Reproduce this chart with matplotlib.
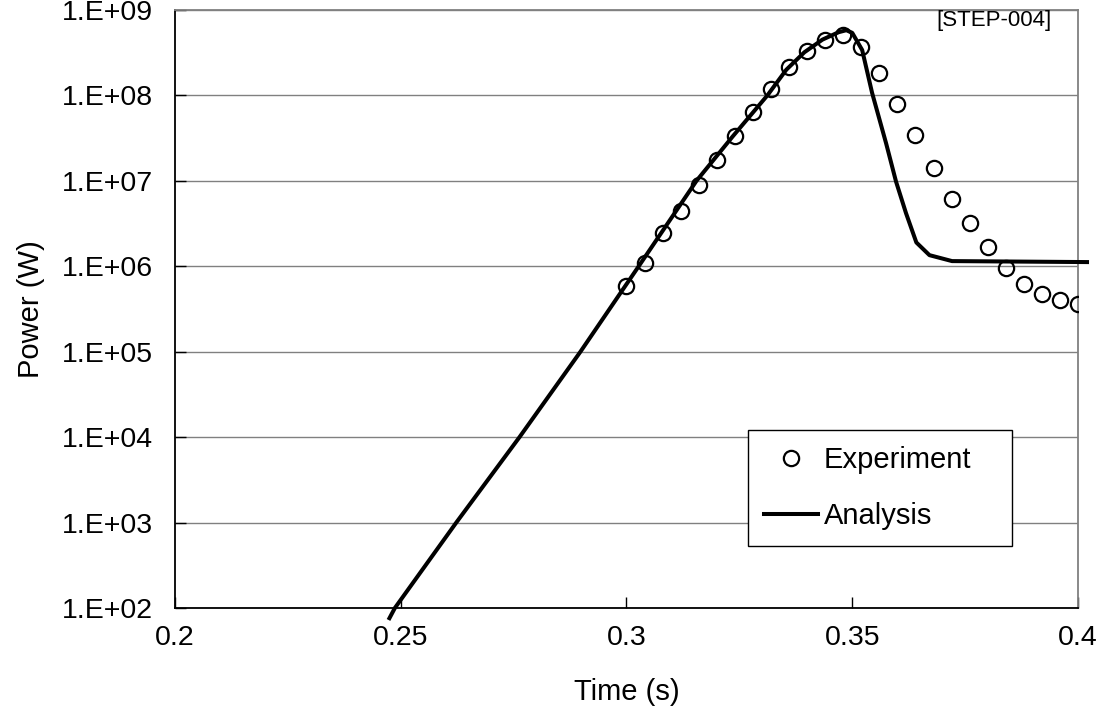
import matplotlib
matplotlib.use("Agg")
import matplotlib.pyplot as plt
import numpy as np
from matplotlib.ticker import FixedLocator, FixedFormatter, NullLocator

plt.rcParams['font.family'] = ['Liberation Sans', 'DejaVu Sans']

# ---- data ----
exp_t = [0.300, 0.304, 0.308, 0.312, 0.316, 0.320, 0.324, 0.328, 0.332, 0.336,
         0.340, 0.344, 0.348, 0.352, 0.356, 0.360, 0.364, 0.368, 0.372, 0.376,
         0.380, 0.384, 0.388, 0.392, 0.396, 0.400]
exp_p = [5.9e5, 1.1e6, 2.45e6, 4.4e6, 8.9e6, 1.75e7, 3.35e7, 6.4e7, 1.19e8, 2.15e8,
         3.3e8, 4.5e8, 5.1e8, 3.7e8, 1.83e8, 7.9e7, 3.4e7, 1.41e7, 6.1e6, 3.2e6,
         1.68e6, 9.5e5, 6.2e5, 4.7e5, 4.0e5, 3.6e5]

ana_t = [0.2475, 0.2487, 0.2623, 0.2763, 0.2898, 0.3027, 0.3155, 0.3235, 0.3312,
         0.3354, 0.3394, 0.3434, 0.3470, 0.3487, 0.3500, 0.3522, 0.3544, 0.3575,
         0.3597, 0.3619, 0.3642, 0.3671, 0.3721, 0.4020]
ana_p = [7.6e1, 1e2, 1e3, 1e4, 1e5, 1e6, 1e7, 3.3e7, 1e8,
         2.0e8, 3.2e8, 4.5e8, 5.5e8, 5.8e8, 5.4e8, 3.4e8, 1.07e8, 2.75e7,
         9.8e6, 4.2e6, 1.9e6, 1.35e6, 1.15e6, 1.12e6]

x_ticks = [0.2, 0.25, 0.3, 0.35, 0.4]
x_tick_labels = ["0.2", "0.25", "0.3", "0.35", "0.4"]
y_ticks = [1e2, 1e3, 1e4, 1e5, 1e6, 1e7, 1e8, 1e9]
y_tick_labels = ["1.E+02", "1.E+03", "1.E+04", "1.E+05", "1.E+06", "1.E+07", "1.E+08", "1.E+09"]

# ---- figure ----
fig = plt.figure(figsize=(11.04, 7.11), dpi=100)
ax = fig.add_axes([0.15851, 0.14487, 0.81793, 0.84107])

ax.set_yscale('log')
ax.set_xlim(0.2, 0.4)
ax.set_ylim(1e2, 1e9)

ax.grid(axis='y', which='major', color='#808080', linewidth=1.0)
ax.set_axisbelow(True)

ax.plot(exp_t, exp_p, linestyle='none', marker='o', markersize=11,
        markerfacecolor='none', markeredgecolor='black', markeredgewidth=1.6,
        label='Experiment', zorder=4)
ax.plot(ana_t, ana_p, color='black', linewidth=2.9, label='Analysis',
        clip_on=False, zorder=3)

ax.xaxis.set_major_locator(FixedLocator(x_ticks))
ax.xaxis.set_major_formatter(FixedFormatter(x_tick_labels))
ax.yaxis.set_major_locator(FixedLocator(y_ticks))
ax.yaxis.set_major_formatter(FixedFormatter(y_tick_labels))
ax.yaxis.set_minor_locator(NullLocator())
ax.xaxis.set_minor_locator(NullLocator())

ax.tick_params(axis='both', direction='in', length=8, width=1.0, labelsize=20.5,
               colors='black')
ax.tick_params(axis='y', pad=16)
ax.tick_params(axis='x', pad=12)

for s in ['left', 'bottom']:
    ax.spines[s].set_color('black')
    ax.spines[s].set_linewidth(1.3)
for s in ['top', 'right']:
    ax.spines[s].set_color('#808080')
    ax.spines[s].set_linewidth(1.3)

ax.set_xlabel('Time (s)', fontsize=21, labelpad=20)
ax.set_ylabel('Power (W)', fontsize=21, labelpad=12)

ax.text(0.971, 0.983, '[STEP-004]', transform=ax.transAxes, ha='right',
        va='center', fontsize=16)

leg = ax.legend(loc='upper left', bbox_to_anchor=(0.6346, 0.1154, 0.2924, 0.1823),
                mode='expand', fontsize=21, frameon=True, fancybox=False,
                edgecolor='black', framealpha=1, handlelength=1.85,
                handletextpad=0.2, borderpad=0.55, labelspacing=0.95,
                borderaxespad=0)
leg.get_frame().set_linewidth(1.0)

fig.savefig('out.png', dpi=100)
